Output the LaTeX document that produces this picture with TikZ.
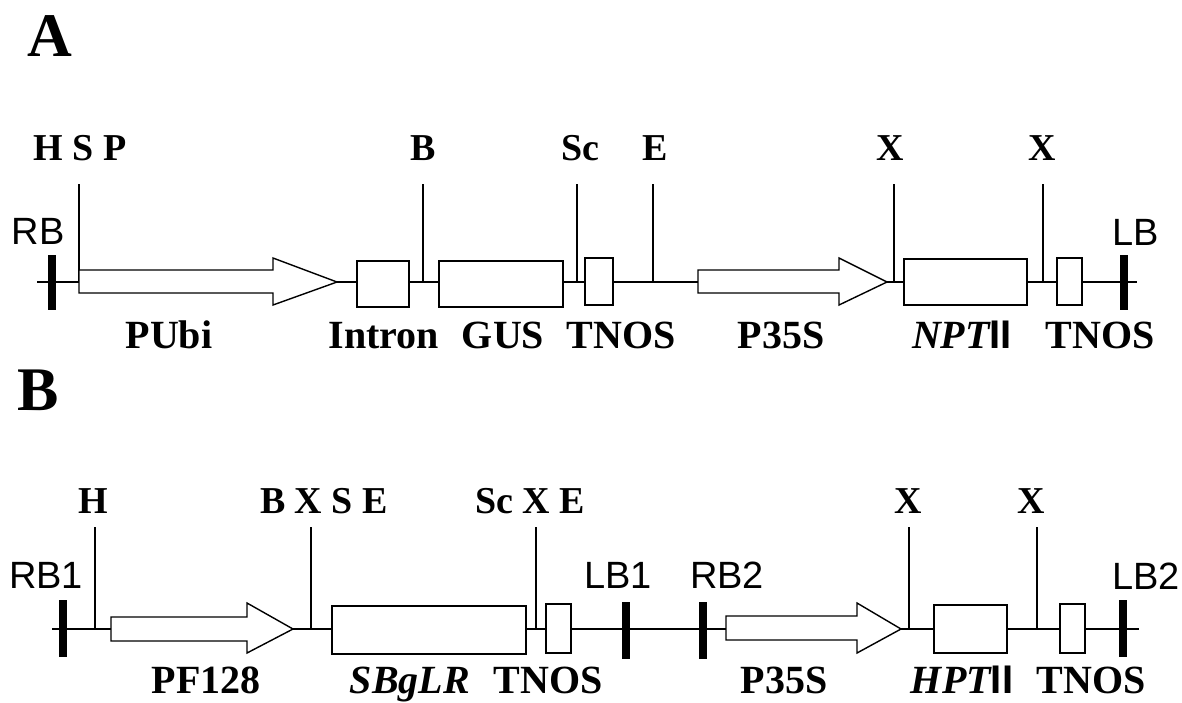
\documentclass[tikz,border=0pt]{standalone}
\usepackage{fontspec}
\setmainfont{Liberation Serif}
\setsansfont{Liberation Sans}
\begin{document}
\begin{tikzpicture}[x=1pt, y=-1pt,
  every node/.style={inner sep=0pt},
  site/.style={anchor=base, font=\fontsize{38}{38}\selectfont\bfseries},
  part/.style={anchor=base, font=\fontsize{40}{40}\selectfont\bfseries},
  border/.style={anchor=base, font=\sffamily\fontsize{38}{38}\selectfont},
  panel/.style={anchor=base, font=\fontsize{62}{62}\selectfont\bfseries},
  box/.style={draw, fill=white, line width=1.4pt},
  bar/.style={fill=black, minimum width=8pt, minimum height=55pt},
  dna/.style={line width=1.4pt},
  promoter/.style={draw, fill=white, line width=1.4pt, line join=miter}]
\useasboundingbox (0,0) rectangle (1182,702);

% A: PUbi-GUS / P35S-NPTII
\begin{scope}
\node[panel] (pA) at (50,56) {A};
\coordinate (a0) at (37,282);
\coordinate (a1) at (1137,282);
\draw[dna] (a0) -- (a1);
\foreach \x/\n in {79/hsp,423/bam,577/sac,653/eco,894/xa,1043/xb}{
  \coordinate (a\n top) at (\x,184);
  \coordinate (a\n) at (\x,282);
  \draw[dna] (a\n top) -- (a\n);
}
\draw[promoter] (79,270) -- (273,270) -- (273,258) -- (337,282) -- (273,305) -- (273,293) -- (79,293) -- cycle;
\draw[promoter] (698,270) -- (839,270) -- (839,258) -- (887,282) -- (839,305) -- (839,293) -- (698,293) -- cycle;
\node[box, minimum width=52, minimum height=46] (intron) at (383,284) {};
\node[box, minimum width=124, minimum height=46] (gus) at (501,284) {};
\node[box, minimum width=28, minimum height=47] (tnosA) at (599,281.5) {};
\node[box, minimum width=123, minimum height=46] (npt) at (965.5,282) {};
\node[box, minimum width=25, minimum height=47] (tnosAA) at (1069.5,281.5) {};
\node[bar] (rb) at (52,282) {};
\node[bar] (lb) at (1124,282) {};
\node[border] (lrb) at (38,244) {RB};
\node[border] (llb) at (1136,245) {LB};
\node[site] (lhsp) at (80,160) {H S P};
\node[site] (lbam) at (423,160) {B};
\node[site] (lsac) at (580,160) {Sc};
\node[site] (leco) at (655,160) {E};
\node[site] (lxa) at (890,160) {X};
\node[site] (lxb) at (1042,160) {X};
\node[part] (lpubi) at (169,348) {PUbi};
\node[part] (lintron) at (384,348) {Intron};
\node[part] (lgus) at (503,348) {GUS};
\node[part] (ltnosA) at (621,348) {TNOS};
\node[part] (lp35A) at (781,348) {P35S};
\node[part] (lnpt) at (962,348) {\itshape NPT\upshape\sffamily II};
\node[part] (ltnosAA) at (1100,348) {TNOS};
\end{scope}

% B: PF128-SBgLR / P35S-HPTII
\begin{scope}
\node[panel] (pB) at (38,410) {B};
\coordinate (b0) at (52,629);
\coordinate (b1) at (1139,629);
\draw[dna] (b0) -- (b1);
\foreach \x/\n in {95/hin,311/bxse,536/scxe,909/xa,1037/xb}{
  \coordinate (b\n top) at (\x,527);
  \coordinate (b\n) at (\x,629);
  \draw[dna] (b\n top) -- (b\n);
}
\draw[promoter] (111,617) -- (247,617) -- (247,603) -- (293,629) -- (247,653) -- (247,641) -- (111,641) -- cycle;
\draw[promoter] (726,616) -- (857,616) -- (857,603) -- (901,629) -- (857,653) -- (857,640) -- (726,640) -- cycle;
\node[box, minimum width=194, minimum height=48] (sbglr) at (429,630) {};
\node[box, minimum width=25, minimum height=49] (tnosB) at (558.5,628.5) {};
\node[box, minimum width=73, minimum height=48] (hpt) at (970.5,629) {};
\node[box, minimum width=25, minimum height=49] (tnosBB) at (1072.5,628.5) {};
\node[bar, minimum height=57] (rb1) at (63,628.5) {};
\node[bar, minimum height=57] (lb1) at (626,630.5) {};
\node[bar, minimum height=57] (rb2) at (703,630) {};
\node[bar, minimum height=57] (lb2) at (1123,628.5) {};
\node[border] (lrb1) at (46,588) {RB1};
\node[border] (llb1) at (618,588) {LB1};
\node[border] (lrb2) at (727,588) {RB2};
\node[border] (llb2) at (1146,589) {LB2};
\node[site] (lhin) at (93,513) {H};
\node[site] (lbxse) at (324,513) {B X S E};
\node[site] (lscxe) at (530,513) {Sc X E};
\node[site] (lxa) at (908,513) {X};
\node[site] (lxb) at (1031,513) {X};
\node[part] (lpf) at (206,693) {PF128};
\node[part] (lsbglr) at (410,693) {\itshape SBgLR};
\node[part] (ltnosB) at (548,693) {TNOS};
\node[part] (lp35B) at (784,693) {P35S};
\node[part] (lhpt) at (962,693) {\itshape HPT\upshape\sffamily II};
\node[part] (ltnosBB) at (1091,693) {TNOS};
\end{scope}
\end{tikzpicture}
\end{document}
